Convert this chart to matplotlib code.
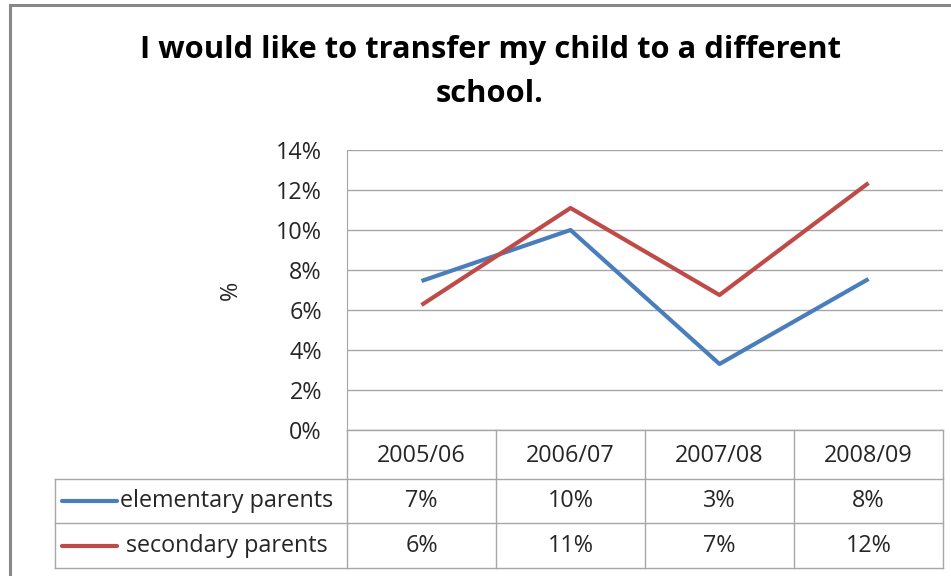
import matplotlib
matplotlib.use('Agg')
import matplotlib.pyplot as plt
from matplotlib.patches import Rectangle

# data
years = ['2005/06', '2006/07', '2007/08', '2008/09']
elementary = [7.45, 10.0, 3.3, 7.55]
secondary = [6.25, 11.1, 6.75, 12.35]
series_names = ['elementary parents', 'secondary parents']
title = 'I would like to transfer my child to a different\nschool.'

blue = '#4a7ebb'
red = '#be4b48'
grid_c = '#a6a6a6'
txt_c = '#262626'
fs = 16.8

plt.rcParams['font.family'] = ['Open Sans', 'DejaVu Sans']

W, H = 951, 576
fig = plt.figure(figsize=(W / 100, H / 100), dpi=100)

# chart area border
fig.patches.append(Rectangle((10 / W, -0.1), 1, 1.1 - 5 / H, transform=fig.transFigure,
                             fill=False, edgecolor='#888888', linewidth=2.2))

# plot area in pixels: x 347..943, y 150..430
ax = fig.add_axes([347 / W, (H - 430) / H, 596 / W, 280 / H])
x = range(len(years))
ax.plot(x, elementary, color=blue, lw=3, solid_capstyle='butt', zorder=3)
ax.plot(x, secondary, color=red, lw=3, solid_capstyle='butt', zorder=3)
ax.set_xlim(-0.5, len(years) - 0.5)
ax.set_ylim(0, 14)
ax.set_yticks(range(0, 15, 2))
ax.set_yticklabels([f'{v}%' for v in range(0, 15, 2)])
ax.yaxis.grid(True, color=grid_c, lw=1)
ax.set_axisbelow(True)
ax.set_xticks([])
ax.tick_params(axis='y', length=0, pad=18, labelsize=fs, labelcolor=txt_c)
for s in ['top', 'right', 'bottom']:
    ax.spines[s].set_visible(False)
ax.spines['left'].set_color(grid_c)
ax.set_ylabel('%', fontsize=fs, color=txt_c, labelpad=24)

fig.text(490 / W, 1 - 72 / H, title, ha='center', va='center', fontsize=22.2,
         fontweight='bold', linespacing=1.62)

# data table below the plot
tx0 = -0.5 - (347 - 55) / 149
tax = fig.add_axes([55 / W, (H - 568) / H, (943 - 55) / W, 138 / H])
tax.set_xlim(tx0, len(years) - 0.5)
tax.set_ylim(138, 0)
tax.axis('off')
rows = [0, 49, 93, 138]
for k in range(len(years) + 1):
    tax.plot([k - 0.5, k - 0.5], [0, 138], color=grid_c, lw=1, clip_on=False)
tax.plot([-0.5, len(years) - 0.5], [0, 0], color=grid_c, lw=1, clip_on=False)
for r in rows[1:]:
    tax.plot([tx0, len(years) - 0.5], [r, r], color=grid_c, lw=1, clip_on=False)
tax.plot([tx0, tx0], [rows[1], rows[3]], color=grid_c, lw=1, clip_on=False)

for i, yr in enumerate(years):
    tax.text(i, (rows[0] + rows[1]) / 2 + 1, yr, ha='center', va='center',
             fontsize=fs, color=txt_c)

px = 1 / 149
for j, (name, vals, col) in enumerate(zip(series_names, [elementary, secondary], [blue, red])):
    yc = (rows[j + 1] + rows[j + 2]) / 2
    tax.plot([tx0 + 7 * px, tx0 + 62 * px], [yc, yc], color=col, lw=3,
             solid_capstyle='round', clip_on=False)
    tax.text(tx0 + 172 * px, yc, name, ha='center', va='center', fontsize=fs,
             color=txt_c)
    for i, v in enumerate(vals):
        tax.text(i, yc, f'{round(v)}%', ha='center', va='center', fontsize=fs,
                 color=txt_c)

fig.savefig('out.png', dpi=100)
